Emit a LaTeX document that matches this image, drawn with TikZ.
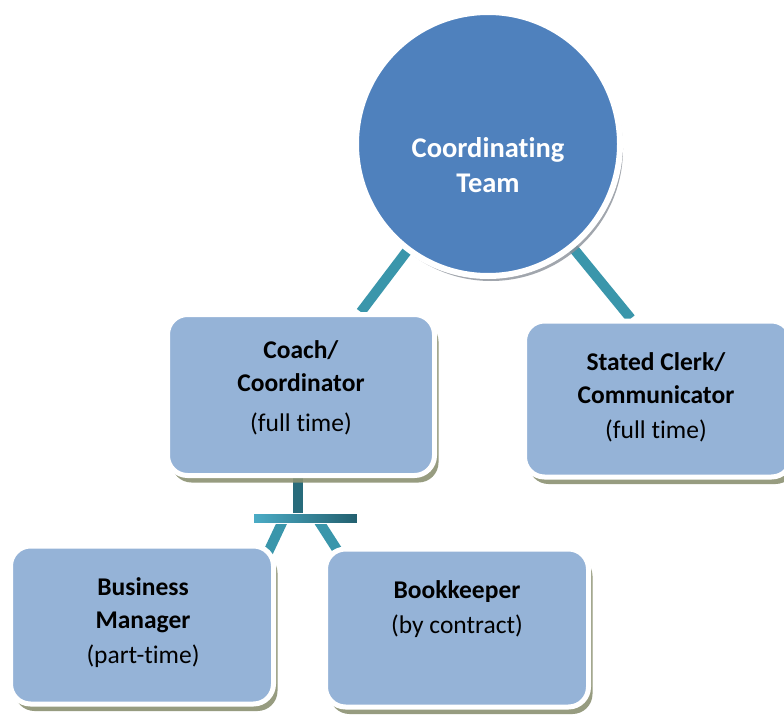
\documentclass[tikz,border=0pt]{standalone}
\usepackage{fontspec}
\setmainfont{Carlito}[Ligatures=NoCommon]
\usetikzlibrary{shadows,backgrounds,calc}
\definecolor{hubfill}{HTML}{4F81BD}
\definecolor{boxfill}{HTML}{95B3D7}
\definecolor{conn}{HTML}{3A96AB}
\definecolor{connlight}{HTML}{4BACC6}
\definecolor{conndark}{HTML}{23606F}
\definecolor{boxshadow}{HTML}{8C9273}
\definecolor{hubshadow}{HTML}{8A9099}
\tikzset{
  hub/.style={circle, draw=white, line width=6pt, fill=hubfill, minimum size=264pt, inner sep=0pt,
    drop shadow={shadow xshift=3pt, shadow yshift=-5pt, fill=hubshadow, opacity=0.8}},
  rolebox/.style={draw=white, line width=5pt, fill=boxfill, rounded corners=20pt, inner sep=0pt,
    drop shadow={shadow xshift=4pt, shadow yshift=-7pt, fill=boxshadow, opacity=0.9}},
  roletext/.style={align=center, font=\fontsize{25.5}{33}\selectfont, text=black, inner sep=0pt},
  hubtext/.style={align=center, font=\fontsize{28.5}{35}\selectfont\bfseries, text=white, inner sep=0pt},
  link/.style={draw=conn, line width=10pt},
  crossbar/.style={rectangle, minimum width=104pt, minimum height=10pt, inner sep=0pt,
    left color=connlight, right color=conndark, draw=white, line width=0.6pt},
}
\begin{document}
\begin{tikzpicture}[x=1pt,y=-1pt]
\clip (0,0) rectangle (784,717);

% nodes
\node[hub] (team) at (488,144) {};
\node[hubtext] (teamtxt) at (488,165) {Coordinating\\Team};

\node[rolebox, minimum width=267pt, minimum height=161pt] (coach) at (301,395) {};
\node[roletext] (coachtxt) at (301,388) {\textbf{Coach/}\\\textbf{Coordinator}\\[7pt](full time)};

\node[rolebox, minimum width=267pt, minimum height=156pt] (clerk) at (658,399) {};
\node[roletext] (clerktxt) at (656,397) {\textbf{Stated Clerk/}\\\textbf{Communicator}\\[2pt](full time)};

\node[rolebox, minimum width=263pt, minimum height=158pt] (bm) at (142,625) {};
\node[roletext] (bmtxt) at (143,623) {\textbf{Business}\\\textbf{Manager}\\[2pt](part-time)};

\node[rolebox, minimum width=263pt, minimum height=158pt] (bk) at (457,628) {};
\node[roletext] (bktxt) at (457,609) {\textbf{Bookkeeper}\\[2pt](by contract)};

\node[crossbar] (bar) at (305,518.5) {};

% connectors behind the shapes
\begin{scope}[on background layer]
  \fill[white] (0,0) rectangle (784,717);
  \draw[link] (team.center) -- ($(coach.north west)!0.72!(coach.north east)$);
  \draw[link] (team.center) -- ($(clerk.north west)!0.4!(clerk.north east)$);
  \draw[link, draw=conndark!80!conn] ($(coach.south)+(-3,-5)$) -- ($(bar.center)+(-7,0)$);
  \draw[link] ($(bar.center)+(-21,0)$) -- ($(bm.north east)+(-8.5,10)$);
  \draw[link] ($(bar.center)+(12,0)$) -- ($(bk.north west)+(16.5,7)$);
\end{scope}
\end{tikzpicture}
\end{document}
